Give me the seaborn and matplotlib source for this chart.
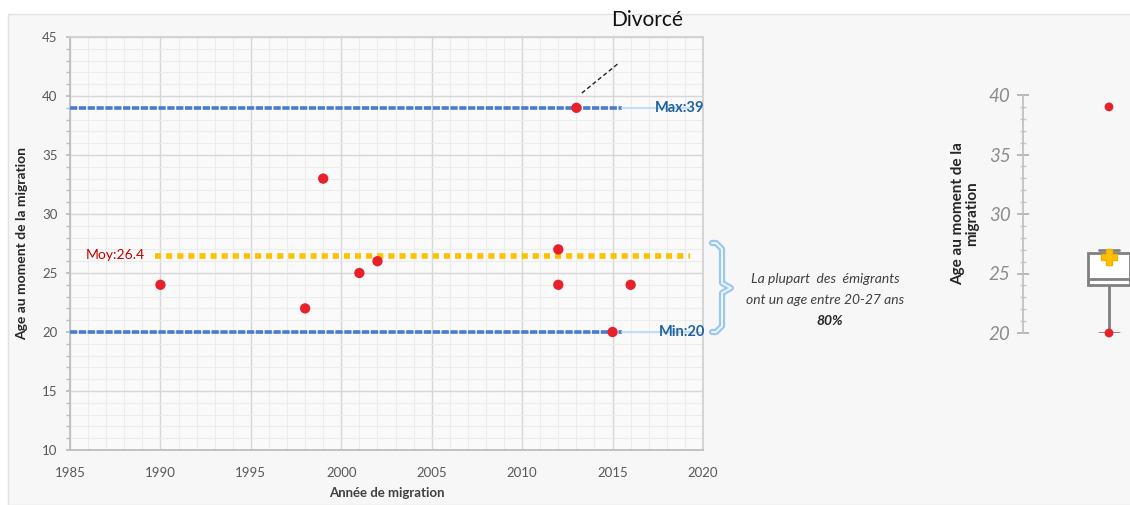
import matplotlib.pyplot as plt
import seaborn as sns
from matplotlib.lines import Line2D
from matplotlib.ticker import MultipleLocator

# ---------- data ---------- #
years = [1990, 1998, 1999, 2001, 2002, 2012, 2012, 2013, 2015, 2016]
ages = [24, 22, 33, 25, 26, 27, 24, 39, 20, 24]
age_max = max(ages)
age_min = min(ages)
age_mean = sum(ages) / len(ages)
box_outliers = [39]

sns.set_theme(style="whitegrid")
plt.rcParams['font.family'] = ['Lato', 'DejaVu Sans']

W, H = 1130, 505
fig = plt.figure(figsize=(W / 100, H / 100), dpi=100)
fig.patch.set_facecolor('white')


def px(x, y):
    # reference pixel -> figure fraction
    return x / W, 1 - y / H


# light panel behind everything
fig.add_artist(plt.Rectangle(px(8, H), 1, (H - 14) / H, transform=fig.transFigure,
                             facecolor='#f7f7f7', edgecolor='#e2e2e2', lw=1, zorder=-10))

# ---------- main scatter ---------- #
ax = fig.add_axes([70 / W, (H - 450) / H, 633 / W, 413 / H])
ax.set_facecolor('#fafafa')
ax.set_xlim(1985, 2020)
ax.set_ylim(10, 45)
ax.xaxis.set_major_locator(MultipleLocator(5))
ax.yaxis.set_major_locator(MultipleLocator(5))
ax.xaxis.set_minor_locator(MultipleLocator(1))
ax.yaxis.set_minor_locator(MultipleLocator(1))
ax.grid(which='major', color='#d6d6d6', lw=1)
ax.grid(which='minor', color='#ececec', lw=0.8)
ax.set_axisbelow(True)
for s in ax.spines.values():
    s.set_color('#d0d0d0')
ax.spines['left'].set_color('#bcbcbc')
ax.spines['bottom'].set_color('#bcbcbc')
ax.tick_params(axis='both', which='major', labelsize=9.5, labelcolor='#595959', pad=6)
ax.tick_params(axis='y', which='both', left=True, length=3, color='#bcbcbc', direction='out')

# max / min lines
for v in (age_max, age_min):
    ax.plot([1985, 2015.5], [v, v], color='#4a7bd0', lw=2.6, ls=(0, (2, 0.45)), zorder=3)
    ax.plot([2015.5, 2019.3], [v, v], color='#c6dcf3', lw=1.5, zorder=3)
# mean line
ax.plot([1989.7, 2019.3], [age_mean, age_mean], color='#ffc000', lw=4, ls=(0, (1.1, 0.9)), zorder=3)

sns.scatterplot(x=years, y=ages, ax=ax, color='#e8202a', s=55, edgecolor='none', zorder=5)

ax.text(2020.1, age_max, f"Max:{age_max}", ha='right', va='center', color='#1f63a3',
        fontsize=10.5, fontweight='bold', clip_on=False)
ax.text(2020.1, age_min, f"Min:{age_min}", ha='right', va='center', color='#1f63a3',
        fontsize=10.5, fontweight='bold', clip_on=False)
ax.text(1989.15, age_mean + 0.1, f"Moy:{age_mean:.1f}", ha='right', va='center', color='#c00000',
        fontsize=10)

ax.plot([2013.3, 2015.35], [40.25, 42.8], color='#222222', lw=1, ls=(0, (3, 2)), clip_on=False)
ax.text(2016.9, 46.4, "Divorcé", ha='center', va='center', fontsize=15, color='#111111', clip_on=False)

ax.set_xlabel("Année de migration", fontsize=9.5, fontweight='bold', color='#404040', labelpad=6)
ax.set_ylabel("Age au moment de la migration", fontsize=10, fontweight='bold', color='#262626', labelpad=10)

# brace
bx = [712, 716, 722, 722, 731, 722, 722, 716, 712]
by = [243, 243, 249, 283, 288, 293, 326, 332, 332]
pts = [px(x, y) for x, y in zip(bx, by)]
fig.add_artist(Line2D([p[0] for p in pts], [p[1] for p in pts], transform=fig.transFigure,
                      color='#9cc7ee', lw=4.5, solid_joinstyle='round', solid_capstyle='round'))
fig.add_artist(Line2D([p[0] for p in pts], [p[1] for p in pts], transform=fig.transFigure,
                      color='#eef6fd', lw=1.4, solid_joinstyle='round', solid_capstyle='round'))

fig.text(*px(825, 279), "La plupart  des  émigrants", ha='center', va='center', fontsize=10,
         style='italic', color='#404040')
fig.text(*px(825, 300), "ont un age entre 20-27 ans", ha='center', va='center', fontsize=10,
         style='italic', color='#404040')
fig.text(*px(830, 321), "80%", ha='center', va='center', fontsize=10,
         style='italic', fontweight='bold', color='#262626')

# ---------- right boxplot ---------- #
ax2 = fig.add_axes([1023 / W, (H - 333) / H, 226 / W, 238 / H])
ax2.set_facecolor('none')
sns.boxplot(y=ages, ax=ax2, width=0.8, showfliers=False, showmeans=True, color='white',
            linecolor='#808080', linewidth=2,
            meanprops=dict(marker='P', markerfacecolor='#ffc000', markeredgecolor='#f0b000',
                           markersize=11))
sns.scatterplot(x=[0] * (len(box_outliers) + 1), y=box_outliers + [age_min], ax=ax2,
                color='#e8202a', s=40, edgecolor='none', zorder=6, clip_on=False)
ax2.set_xlim(-1.64, 2.67)
ax2.set_ylim(20, 40)
ax2.grid(False)
for k in ['top', 'right', 'bottom']:
    ax2.spines[k].set_visible(False)
ax2.spines['left'].set_color('#bfbfbf')
ax2.set_xticks([])
ax2.yaxis.set_major_locator(MultipleLocator(5))
ax2.yaxis.set_minor_locator(MultipleLocator(1))
ax2.tick_params(axis='y', which='major', left=True, direction='inout', length=8, color='#b0b0b0',
                labelsize=13.5, labelcolor='#8c8c8c', pad=5)
ax2.tick_params(axis='y', which='minor', left=True, direction='inout', length=4, color='#c8c8c8')
for t in ax2.get_yticklabels():
    t.set_style('italic')
ax2.set_ylabel("Age au moment de la\nmigration", fontsize=11, fontweight='bold', color='#262626',
               labelpad=7, linespacing=1.0)

fig.savefig('out.png', dpi=100)
